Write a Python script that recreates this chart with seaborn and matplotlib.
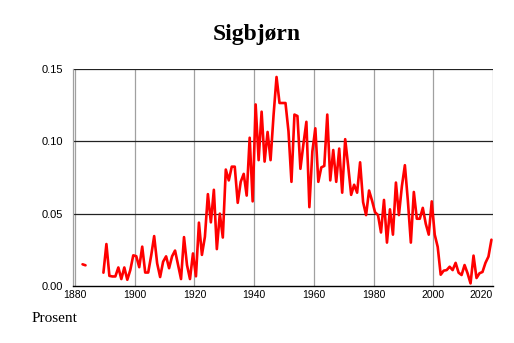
import numpy as np
import pandas as pd
import matplotlib
matplotlib.use("Agg")
import matplotlib.pyplot as plt
import seaborn as sns

# Share of population named Sigbjørn (percent)
early_years = [1882, 1883]
early_values = [0.0150, 0.0143]

main_start = 1889
main_values = [
    0.0092,                                                          # 1889
    0.0290, 0.0070, 0.0066, 0.0066, 0.0128, 0.0048, 0.0128, 0.0043, 0.0110, 0.0212,  # 1890s
    0.0206, 0.0130, 0.0272, 0.0093, 0.0093, 0.0210, 0.0345, 0.0157, 0.0062, 0.0168,  # 1900s
    0.0205, 0.0123, 0.0205, 0.0245, 0.0145, 0.0048, 0.0338, 0.0145, 0.0048, 0.0225,  # 1910s
    0.0067, 0.0438, 0.0215, 0.0340, 0.0635, 0.0440, 0.0665, 0.0255, 0.0500, 0.0335,  # 1920s
    0.0805, 0.0730, 0.0825, 0.0825, 0.0575, 0.0720, 0.0775, 0.0625, 0.1025, 0.0585,  # 1930s
    0.1255, 0.0870, 0.1205, 0.0860, 0.1065, 0.0870, 0.1180, 0.1445, 0.1265, 0.1265,  # 1940s
    0.1265, 0.1070, 0.0720, 0.1185, 0.1175, 0.0810, 0.0980, 0.1135, 0.0545, 0.0930,  # 1950s
    0.1090, 0.0720, 0.0820, 0.0830, 0.1185, 0.0730, 0.0940, 0.0720, 0.0950, 0.0645,  # 1960s
    0.1015, 0.0830, 0.0630, 0.0700, 0.0645, 0.0855, 0.0580, 0.0490, 0.0660, 0.0590,  # 1970s
    0.0510, 0.0490, 0.0370, 0.0595, 0.0300, 0.0530, 0.0355, 0.0715, 0.0490, 0.0690,  # 1980s
    0.0835, 0.0590, 0.0300, 0.0650, 0.0465, 0.0465, 0.0540, 0.0430, 0.0355, 0.0585,  # 1990s
    0.0355, 0.0270, 0.0078, 0.0106, 0.0110, 0.0133, 0.0110, 0.0160, 0.0092, 0.0076,  # 2000s
    0.0145, 0.0088, 0.0018, 0.0210, 0.0055, 0.0088, 0.0097, 0.0160, 0.0203, 0.0320,  # 2010s
]
main_years = list(range(main_start, main_start + len(main_values)))

y_ticks = [0.00, 0.05, 0.10, 0.15]
x_ticks = [1880, 1900, 1920, 1940, 1960, 1980, 2000, 2020]

df = pd.concat([
    pd.DataFrame({"year": early_years, "value": early_values, "seg": 0}),
    pd.DataFrame({"year": main_years, "value": main_values, "seg": 1}),
])
# values sit at the middle of each year on the axis
df["pos"] = df["year"] + 0.5

sns.set_style("white")
plt.rcParams["font.family"] = ["Liberation Sans", "DejaVu Sans"]
plt.rcParams["text.color"] = "black"
plt.rcParams["xtick.color"] = "black"
plt.rcParams["ytick.color"] = "black"

fig = plt.figure(figsize=(5.14, 3.43), dpi=100)
ax = fig.add_axes([0.1414, 0.1662, 0.8176, 0.6326])

sns.lineplot(data=df, x="pos", y="value", units="seg", estimator=None,
             color="#ff0000", linewidth=1.9, ax=ax, legend=False)

ax.set_xlim(1879.2, 2020)
ax.set_ylim(0, 0.15)
ax.set_xticks(x_ticks)
ax.set_xticks(range(1880, 2021, 5), minor=True)
ax.set_yticks(y_ticks)
ax.set_yticklabels([f"{v:.2f}" for v in y_ticks])
ax.set_xticklabels([str(x) for x in x_ticks])
ax.get_xticklabels()[-1].set_horizontalalignment("right")

ax.grid(False)
for x in x_ticks:
    ax.axvline(x, color="#a0a0a0", linewidth=0.9, zorder=0)
for y in y_ticks[1:]:
    ax.axhline(y, color="#222222", linewidth=0.9, zorder=0)

ax.tick_params(axis="x", which="both", direction="in", length=3, width=0.8,
               color="black", labelsize=7.5, labelcolor="black", pad=3)
ax.tick_params(axis="y", length=0, labelsize=8, labelcolor="black", pad=7)

for side in ["top", "right"]:
    ax.spines[side].set_visible(False)
ax.spines["left"].set_color("#a0a0a0")
ax.spines["left"].set_linewidth(0.9)
ax.spines["bottom"].set_color("black")
ax.spines["bottom"].set_linewidth(1.0)

ax.set_xlabel("")
ax.set_ylabel("")

fig.text(0.5, 0.882, "Sigbjørn", ha="center", va="baseline", color="black",
         fontsize=17, fontweight="bold", family=["Liberation Serif", "DejaVu Serif"])
fig.text(0.062, 0.06, "Prosent", ha="left", va="baseline", color="black",
         fontsize=11, family=["Liberation Serif", "DejaVu Serif"])

fig.savefig("out.png", dpi=100)
